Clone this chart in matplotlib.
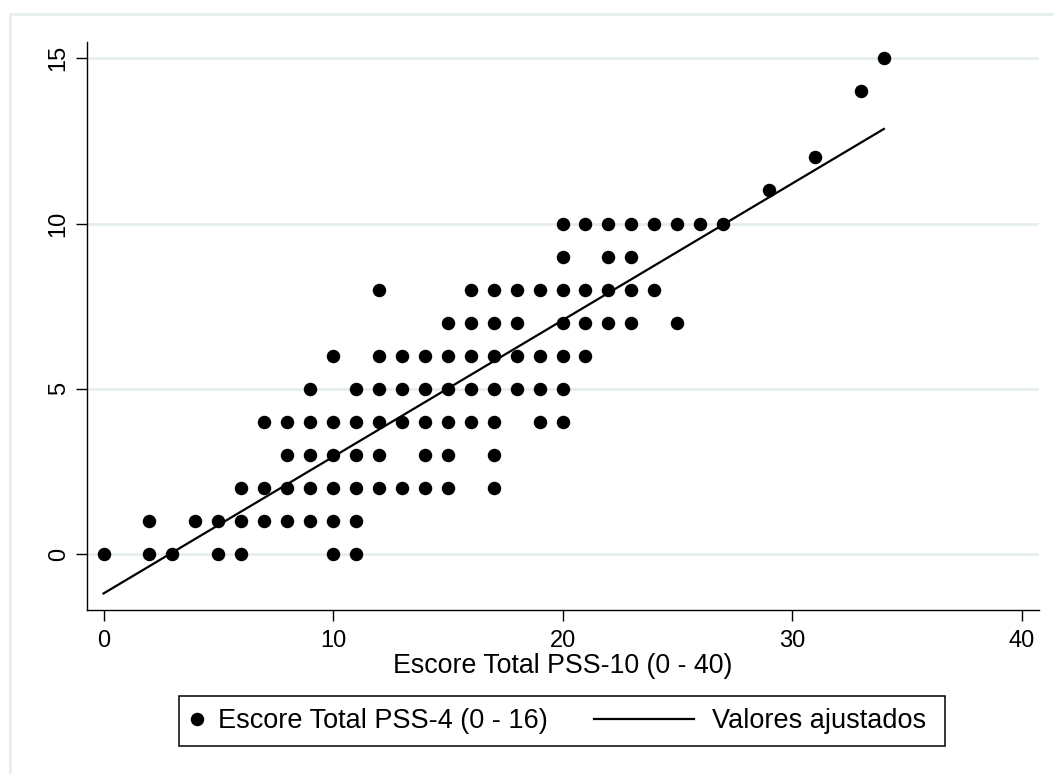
import matplotlib
matplotlib.use("Agg")
import matplotlib.pyplot as plt
from matplotlib.patches import Rectangle
from matplotlib.lines import Line2D
from matplotlib.legend_handler import HandlerLine2D

# ---- data ----
pss10 = [0, 2, 3, 5, 6, 10, 11,                       # PSS-4 = 0
         2, 4, 5, 6, 7, 8, 9, 10, 11,                 # 1
         6, 7, 8, 9, 10, 11, 12, 13, 14, 15, 17,     # 2
         8, 9, 10, 11, 12, 14, 15, 17,                # 3
         7, 8, 9, 10, 11, 12, 13, 14, 15, 16, 17, 19, 20,  # 4
         9, 11, 12, 13, 14, 15, 16, 17, 18, 19, 20,  # 5
         10, 12, 13, 14, 15, 16, 17, 18, 19, 20, 21, # 6
         15, 16, 17, 18, 20, 21, 22, 23, 25,          # 7
         12, 16, 17, 18, 19, 20, 21, 22, 23, 24,      # 8
         20, 22, 23,                                  # 9
         20, 21, 22, 23, 24, 25, 26, 27,              # 10
         29, 31, 33, 34]                              # 11, 12, 14, 15
pss4 = ([0] * 7 + [1] * 9 + [2] * 11 + [3] * 8 + [4] * 13 + [5] * 11 +
        [6] * 11 + [7] * 9 + [8] * 10 + [9] * 3 + [10] * 8 +
        [11, 12, 14, 15])

fit_x = [0, 34]
fit_y = [-1.19, 12.86]

x_ticks = [0, 10, 20, 30, 40]
y_ticks = [0, 5, 10, 15]
x_label = "Escore Total PSS-10 (0 - 40)"
legend_labels = ["Escore Total PSS-4 (0 - 16)", "Valores ajustados"]

# ---- figure ----
plt.rcParams['font.family'] = ['Liberation Sans', 'DejaVu Sans']
W, H = 1054, 774
fig = plt.figure(figsize=(W / 100, H / 100), dpi=100)
fig.patch.set_facecolor('white')

GRID = '#e6eef0'
# outer light frame
fig.add_artist(Rectangle((10 / W, -0.05), 1.2, 1 - 14 / H + 0.05,
                         transform=fig.transFigure, fill=False,
                         edgecolor=GRID, linewidth=2.0))

ax = fig.add_axes([87 / W, 1 - 610 / H, (1039 - 87) / W, (610 - 42) / H])
ax.set_xlim(-0.72, 40.76)
ax.set_ylim(-1.69, 15.49)

for yt in y_ticks:
    ax.axhline(yt, color=GRID, linewidth=2.0, zorder=0)

ax.plot(pss10, pss4, linestyle='none', marker='o', markersize=9.7,
        color='black', markeredgewidth=0, zorder=3)
ax.plot(fit_x, fit_y, color='black', linewidth=1.6, zorder=4)

ax.spines['top'].set_visible(False)
ax.spines['right'].set_visible(False)
ax.spines['left'].set_linewidth(1.0)
ax.spines['bottom'].set_linewidth(1.0)

ax.set_xticks(x_ticks)
ax.set_yticks(y_ticks)
ax.tick_params(axis='both', direction='out', length=8, width=1.0,
               labelsize=17, colors='black')
ax.tick_params(axis='x', pad=6.5)
ax.tick_params(axis='y', pad=4.5)
for lab in ax.get_yticklabels():
    lab.set_rotation(90)
    lab.set_va('center')
    lab.set_ha('right')
ax.set_xlabel(x_label, fontsize=19.3, labelpad=0.5)


class LongLineHandler(HandlerLine2D):
    """Line key that extends leftwards past the (short) handle box."""
    def get_xdata(self, legend, xdescent, ydescent, width, height, fontsize):
        x1 = width - 2.9
        x0 = x1 - 72.0
        return [x0, x1], [x0, x1]


LEG_FS = 19.5
marker_handle = Line2D([], [], linestyle='none', marker='o', markersize=9.7,
                       color='black', markeredgewidth=0)
line_handle = Line2D([], [], color='black', linewidth=1.6)
leg = fig.legend([marker_handle, line_handle], legend_labels,
                 handler_map={line_handle: LongLineHandler()},
                 loc='center left', ncol=2,
                 bbox_to_anchor=(179 / W, 1 - 721 / H),
                 fontsize=LEG_FS, frameon=False,
                 handlelength=0.55, handletextpad=0.5,
                 borderpad=0.4, borderaxespad=0.0, columnspacing=5.0)

# legend frame (black box)
fig.add_artist(Rectangle((179 / W, 1 - 746 / H), (945 - 179) / W, 50 / H,
                         transform=fig.transFigure, fill=False,
                         edgecolor='black', linewidth=1.1, zorder=5))

fig.savefig('out.png', dpi=100, facecolor='white')
